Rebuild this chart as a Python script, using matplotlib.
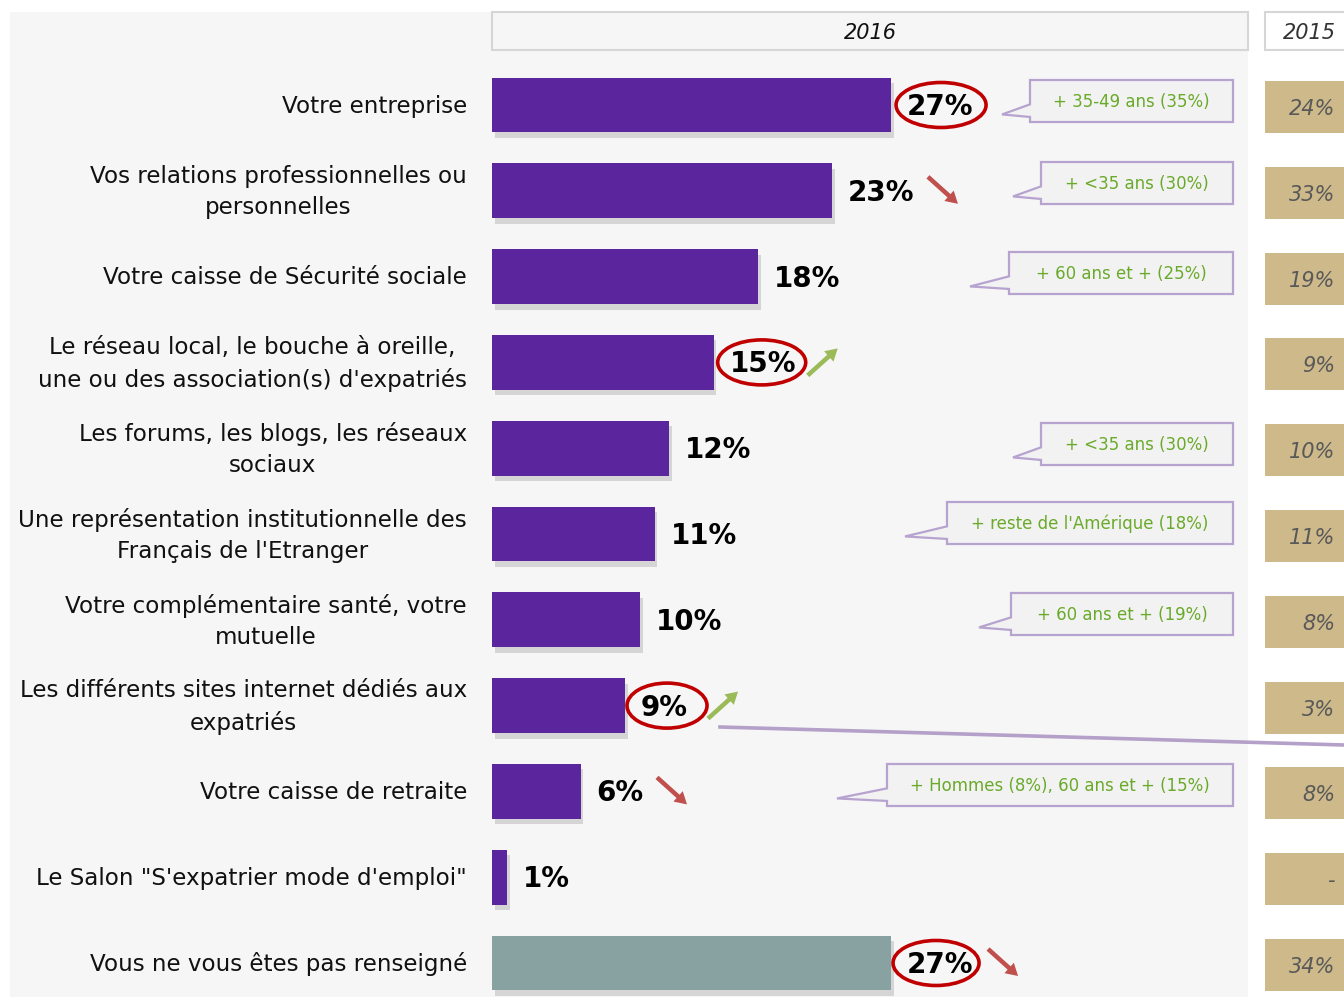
import matplotlib
matplotlib.use("Agg")
import matplotlib.pyplot as plt
from matplotlib import transforms
from matplotlib.patches import Rectangle, Ellipse, Polygon, FancyArrow
import matplotlib.patheffects as pe

# ---------------- data ----------------
categories = [
    "Votre entreprise",
    "Vos relations professionnelles ou\npersonnelles",
    "Votre caisse de Sécurité sociale",
    "Le réseau local, le bouche à oreille,\nune ou des association(s) d'expatriés",
    "Les forums, les blogs, les réseaux\nsociaux",
    "Une représentation institutionnelle des\nFrançais de l'Etranger",
    "Votre complémentaire santé, votre\nmutuelle",
    "Les différents sites internet dédiés aux\nexpatriés",
    "Votre caisse de retraite",
    "Le Salon \"S'expatrier mode d'emploi\"",
    "Vous ne vous êtes pas renseigné",
]
values_2016 = [27, 23, 18, 15, 12, 11, 10, 9, 6, 1, 27]
labels_2015 = ["24%", "33%", "19%", "9%", "10%", "11%", "8%", "3%", "8%", "-", "34%"]
callouts = {
    0: "+ 35-49 ans (35%)",
    1: "+ <35 ans (30%)",
    2: "+ 60 ans et + (25%)",
    4: "+ <35 ans (30%)",
    5: "+ reste de l'Amérique (18%)",
    6: "+ 60 ans et + (19%)",
    8: "+ Hommes (8%), 60 ans et + (15%)",
}
circled = [0, 3, 7, 10]
trend_down = [1, 8, 10]
trend_up = [3, 7]

# ---------------- layout ----------------
W, H = 1344, 997
fig = plt.figure(figsize=(W / 100, H / 100), dpi=100, facecolor="white")
PX = transforms.Affine2D().scale(1 / W, -1 / H).translate(0, 1) + fig.transFigure

X0 = 492          # pixel of 0 %
PXPER = 14.78     # pixels per %
Y0 = 105          # pixel of first row centre
ROW = 85.8        # pixels per row

ax = fig.add_axes([0, 0, 1, 1])
ax.set_zorder(2)
ax.patch.set_alpha(0)
ax.set_xlim((0 - X0) / PXPER, (W - X0) / PXPER)
ax.set_ylim((H - Y0) / ROW, (0 - Y0) / ROW)
ax.axis("off")

# background panel
fig.patches.append(Rectangle((10, 12), 1238, 990, transform=PX, facecolor="#f6f6f6",
                             edgecolor="none", zorder=-2))
# headers
fig.patches.append(Rectangle((492, 12), 756, 38, transform=PX, facecolor="#f6f6f6",
                             edgecolor="#d6d6d6", lw=1.5, zorder=1))
fig.patches.append(Rectangle((1265, 12), 100, 38, transform=PX, facecolor="white",
                             edgecolor="#d6d6d6", lw=1.5, zorder=1))
fig.text(870 / W, 1 - 33 / H, "2016", ha="center", va="center", fontsize=15,
         style="italic", color="#111111", zorder=1.5)
fig.text(1283 / W, 1 - 33 / H, "2015", ha="left", va="center", fontsize=15,
         style="italic", color="#333333", zorder=1.5)

# bars
colors = ["#5b259e"] * 10 + ["#88a2a2"]
ypos = list(range(len(categories)))
bars = ax.barh(ypos, values_2016, height=0.64, color=colors, zorder=3)
for b in bars:
    b.set_path_effects([pe.SimplePatchShadow(offset=(2, -4), shadow_rgbFace="#999999", alpha=0.35),
                        pe.Normal()])

# category labels
for i, c in enumerate(categories):
    ax.annotate(c, ((467 - X0) / PXPER, i), xytext=(0, -1), textcoords="offset points",
                ha="right", va="center", multialignment="center",
                fontsize=16.6, color="#111111", linespacing=1.45, zorder=4)

# value labels
for i, v in enumerate(values_2016):
    ax.annotate(f"{v}%", (v, i), xytext=(11.5, -1.5), textcoords="offset points",
                ha="left", va="center", fontsize=20, fontweight="bold", color="black", zorder=5)

def bar_end_px(i):
    return X0 + values_2016[i] * PXPER

def row_px(i):
    return Y0 + i * ROW

# red ellipses
ell_off = {0: 50, 3: 48, 7: 42, 10: 45}
ell_w = {0: 90, 3: 88, 7: 80, 10: 86}
for i in circled:
    cx = bar_end_px(i) + ell_off[i]
    cy = row_px(i) + 0
    fig.patches.append(Ellipse((cx, cy), ell_w[i], 45, transform=PX, facecolor="none",
                               edgecolor="#c00000", lw=2.6, zorder=6))

# trend arrows (start offsets from bar end, in px)
arrow_dx = {1: 96, 10: 97, 3: 94, 7: 83}
arrow_dx[8] = 657 - bar_end_px(8)
for i in trend_down:
    sx = bar_end_px(i) + arrow_dx[i]
    sy = row_px(i) - 14
    fig.patches.append(FancyArrow(sx, sy, 30, 27, width=4.5, head_width=14, head_length=12,
                                  length_includes_head=True, transform=PX,
                                  color="#c0504d", lw=0, zorder=6))
for i in trend_up:
    sx = bar_end_px(i) + arrow_dx[i]
    sy = row_px(i) + 13
    fig.patches.append(FancyArrow(sx, sy, 30, -27, width=4.5, head_width=14, head_length=12,
                                  length_includes_head=True, transform=PX,
                                  color="#9bbb59", lw=0, zorder=6))

# callouts (box left, box top, tail point x)
callout_geom = {
    0: (1030, 80, 1002),
    1: (1041, 162, 1013),
    2: (1009, 252, 970),
    4: (1041, 423, 1013),
    5: (947, 502, 905),
    6: (1011, 593, 979),
    8: (887, 764, 837),
}
for i, txt in callouts.items():
    bx, by, tx = callout_geom[i]
    bx2 = 1233
    bh = 42
    ty = by + bh * 0.82
    pts = [(bx, by), (bx2, by), (bx2, by + bh), (bx, by + bh), (bx, by + bh * 0.88),
           (tx, ty), (bx, by + bh * 0.58)]
    fig.patches.append(Polygon(pts, closed=True, transform=PX, facecolor="#f2f2f2",
                               edgecolor="#b7a3cf", lw=1.6, zorder=6))
    fig.text(((bx + bx2) / 2) / W, 1 - (by + bh / 2 + 1) / H, txt, ha="center", va="center",
             fontsize=12, color="#6aaa2a", zorder=7)

# connector line
fig.add_artist(plt.Line2D([720 / W, 1], [1 - 727 / H, 1 - 745 / H], color="#b4a0c8", lw=2.6,
                          zorder=6))

# 2015 boxes
for i, t in enumerate(labels_2015):
    cy = row_px(i) + 2
    fig.patches.append(Rectangle((1265, cy - 26), 100, 52, transform=PX,
                                 facecolor="#cdb98a", edgecolor="none", zorder=1))
    fig.text(1335 / W, 1 - (cy + 2) / H, t, ha="right", va="center", fontsize=15,
             style="italic", color="#595959", zorder=1.5)

fig.savefig("out.png", dpi=100, facecolor="white")
